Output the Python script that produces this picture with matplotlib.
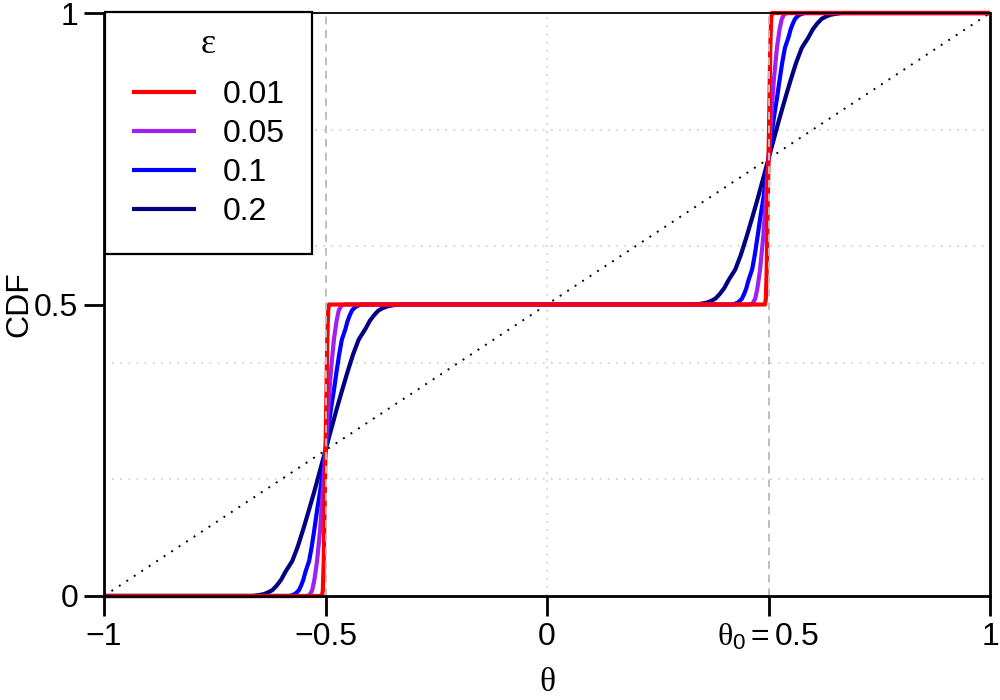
import matplotlib
matplotlib.use("Agg")
import matplotlib.pyplot as plt
import numpy as np

plt.rcParams['font.family'] = ['Liberation Sans', 'DejaVu Sans']
plt.rcParams['mathtext.fontset'] = 'custom'
plt.rcParams['mathtext.rm'] = 'Liberation Sans'
plt.rcParams['mathtext.it'] = 'Liberation Serif'

# step centres and the shape of each smoothed step (offset from centre, rise)
step_centres = [-0.5, 0.5]
step_bases = [0.0, 0.5]

eps_labels = ['0.01', '0.05', '0.1', '0.2']
eps_colors = ['#FF0000', '#A020F0', '#0000FF', '#000080']

dx_001 = [-0.008, -0.006, -0.004, -0.002, 0.0, 0.002, 0.004, 0.006, 0.008]
h_001 = [0.0, 0.01, 0.06, 0.16, 0.25, 0.34, 0.44, 0.49, 0.5]

dx_005 = [-0.042, -0.038, -0.035, -0.03, -0.025, -0.019, -0.012, -0.006, 0.0,
          0.006, 0.012, 0.019, 0.025, 0.03, 0.035, 0.038, 0.042]
h_005 = [0.0, 0.001, 0.003, 0.01, 0.028, 0.06, 0.115, 0.18, 0.25,
         0.32, 0.385, 0.44, 0.472, 0.49, 0.497, 0.499, 0.5]

dx_01 = [-0.082, -0.077, -0.07, -0.065, -0.06, -0.055, -0.05, -0.045, -0.037, -0.031,
         -0.025, -0.019, -0.012, -0.006, 0.0, 0.006, 0.012, 0.019, 0.025, 0.031,
         0.037, 0.045, 0.05, 0.055, 0.06, 0.065, 0.07, 0.077, 0.082]
h_01 = [0.0, 0.001, 0.003, 0.006, 0.01, 0.018, 0.028, 0.042, 0.06, 0.085,
        0.115, 0.147, 0.18, 0.215, 0.25, 0.285, 0.32, 0.353, 0.385, 0.415,
        0.44, 0.458, 0.472, 0.482, 0.49, 0.494, 0.497, 0.499, 0.5]

dx_02 = [-0.165, -0.155, -0.14, -0.13, -0.12, -0.11, -0.10, -0.09, -0.075, -0.0625,
         -0.05, -0.0375, -0.025, -0.0125, 0.0, 0.0125, 0.025, 0.0375, 0.05, 0.0625,
         0.075, 0.09, 0.10, 0.11, 0.12, 0.13, 0.14, 0.155, 0.165]
h_02 = [0.0, 0.001, 0.003, 0.006, 0.01, 0.018, 0.028, 0.042, 0.06, 0.085,
        0.115, 0.147, 0.18, 0.215, 0.25, 0.285, 0.32, 0.353, 0.385, 0.415,
        0.44, 0.458, 0.472, 0.482, 0.49, 0.494, 0.497, 0.499, 0.5]

profiles = [(dx_001, h_001), (dx_005, h_005), (dx_01, h_01), (dx_02, h_02)]

uniform_x = [-1, 1]
uniform_y = [0, 1]

xticks = [-1, -0.5, 0, 0.5, 1]
xticklabels = ['\u22121', '\u22120.5', '0', r'$\theta_0 = 0.5$', '1']
yticks = [0, 0.5, 1]
yticklabels = ['0', '0.5', '1']

fig = plt.figure(figsize=(10, 7), dpi=100)
ax = fig.add_axes([0.104, 0.1486, 0.886, 0.8328])
ax.set_xlim(-1, 1)
ax.set_ylim(0, 1)

# grid
for gy in [0.2, 0.4, 0.6, 0.8, 1.0]:
    ax.axhline(gy, color='#D3D3D3', lw=1.3, ls=(0, (1, 3.5)), zorder=1)
for gx in [-1, 0, 1]:
    ax.axvline(gx, color='#D3D3D3', lw=1.3, ls=(0, (1, 3.5)), zorder=1)

ax.plot(uniform_x, uniform_y, color='black', lw=1.4, ls=(0, (1, 3.6)), zorder=2)

handles = []
for i in [3, 2, 1, 0]:
    dx, h = profiles[i]
    xs = [-1.0]
    ys = [0.0]
    for c, b in zip(step_centres, step_bases):
        xs += [c + d for d in dx]
        ys += [b + v for v in h]
    xs.append(1.0)
    ys.append(1.0)
    ln, = ax.plot(xs, ys, color=eps_colors[i], lw=3.0, clip_on=False,
                  solid_capstyle='butt', solid_joinstyle='round',
                  zorder=3 + (3 - i))
    handles.append(ln)
handles = handles[::-1]

for vx in [-0.5, 0.5]:
    ax.axvline(vx, color='#BEBEBE', lw=1.4, ls=(0, (4, 3)), zorder=8)

for s in ['left', 'bottom', 'right']:
    ax.spines[s].set_linewidth(2.0)
    ax.spines[s].set_zorder(9)
ax.spines['top'].set_linewidth(1.3)
ax.spines['top'].set_zorder(9)

ax.set_xticks(xticks)
ax.set_xticklabels(xticklabels)
ax.set_yticks(yticks)
ax.set_yticklabels(yticklabels)
ax.tick_params(axis='both', direction='out', length=14.5, width=2.0,
               labelsize=23, pad=4)
ax.tick_params(axis='x', pad=4)

ax.set_xlabel('\u03b8', family=['Liberation Serif', 'DejaVu Serif'],
              fontsize=24, labelpad=11)
ax.set_ylabel('CDF', fontsize=23, labelpad=0)

leg = ax.legend(handles, eps_labels, title='\u03b5', loc='upper left',
                bbox_to_anchor=(0.105, 0.983), bbox_transform=fig.transFigure,
                borderaxespad=0, fontsize=23, frameon=True, fancybox=False,
                framealpha=1, edgecolor='black', handlelength=2.0,
                handletextpad=0.85, labelspacing=0.28, borderpad=0.5,
                title_fontproperties={'family': ['Liberation Serif', 'DejaVu Serif'],
                                      'size': 26})
leg.get_frame().set_linewidth(1.6)
leg._legend_box.sep = 6
leg._legend_handle_box.pad = 8
leg.set_zorder(10)

fig.savefig('out.png', dpi=100)
